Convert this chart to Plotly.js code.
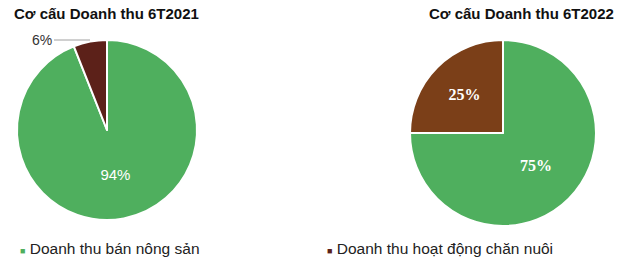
<!DOCTYPE html>
<html>
<head>
<meta charset="utf-8">
<script src="https://cdn.plot.ly/plotly-3.0.1.min.js"></script>
<style>html,body{margin:0;padding:0;background:#fff;}#chart{width:630px;height:269px;}</style>
</head>
<body>
<div id="chart"></div>
<script>
var categories = ["Doanh thu bán nông sản", "Doanh thu hoạt động chăn nuôi"];
var values2021 = [94, 6];
var values2022 = [75, 25];
var titles = ["Cơ cấu Doanh thu 6T2021", "Cơ cấu Doanh thu 6T2022"];
var colors2021 = ["#4FAF5E", "#5C2119"];
var colors2022 = ["#4FAF5E", "#7B3F18"];

var W = 630, H = 269;
function dom(x0, x1, y0, y1) {
  return {x: [x0 / W, x1 / W], y: [1 - y1 / H, 1 - y0 / H]};
}

var pie1 = {
  type: "pie", labels: categories, values: values2021, sort: false,
  direction: "clockwise", rotation: 0,
  marker: {colors: colors2021, line: {color: "#ffffff", width: 2}},
  textinfo: "percent", texttemplate: "%{value}%",
  textposition: ["inside", "none"], insidetextorientation: "horizontal",
  textfont: {family: "Liberation Sans, Arial, sans-serif", size: 15, color: "#ffffff"},
  domain: dom(17, 197, 40, 220), hoverinfo: "label+percent", showlegend: false
};
var pie2 = {
  type: "pie", labels: categories, values: values2022, sort: false,
  direction: "clockwise", rotation: 0,
  marker: {colors: colors2022, line: {color: "#ffffff", width: 2}},
  textinfo: "percent", texttemplate: "%{value}%",
  textposition: "inside", insidetextorientation: "horizontal",
  textfont: {family: "Liberation Serif, Times New Roman, serif", size: 16, color: "#ffffff", weight: "bold"},
  domain: dom(410, 596, 40, 226), hoverinfo: "label+percent", showlegend: false
};

var layout = {
  width: W, height: H,
  margin: {l: 0, r: 0, t: 0, b: 0},
  paper_bgcolor: "#ffffff", plot_bgcolor: "#ffffff",
  showlegend: false,
  annotations: [
    {xref: "paper", yref: "paper", x: 12 / W, y: 1 - 14 / H, xanchor: "left", yanchor: "middle",
     text: "<b>" + titles[0] + "</b>", showarrow: false,
     font: {family: "Liberation Sans, Arial, sans-serif", size: 15, color: "#111111"}},
    {xref: "paper", yref: "paper", x: 616 / W, y: 1 - 14 / H, xanchor: "right", yanchor: "middle",
     text: "<b>" + titles[1] + "</b>", showarrow: false,
     font: {family: "Liberation Sans, Arial, sans-serif", size: 15, color: "#111111"}},
    {xref: "paper", yref: "paper", x: 90 / W, y: 1 - 40 / H,
     text: values2021[1] + "%", showarrow: true, arrowhead: 0, arrowwidth: 1, arrowcolor: "#a0a0a0",
     ax: -36, ay: 0, xanchor: "right",
     font: {family: "Liberation Sans, Arial, sans-serif", size: 14, color: "#333333"}},
    {xref: "paper", yref: "paper", x: 18 / W, y: 1 - 248 / H, xanchor: "left", yanchor: "middle",
     text: "<span style='color:" + colors2021[0] + ";font-size:9px'>■</span> " + categories[0], showarrow: false,
     font: {family: "Liberation Sans, Arial, sans-serif", size: 15.5, color: "#222222"}},
    {xref: "paper", yref: "paper", x: 325 / W, y: 1 - 248 / H, xanchor: "left", yanchor: "middle",
     text: "<span style='color:" + colors2021[1] + ";font-size:9px'>■</span> " + categories[1], showarrow: false,
     font: {family: "Liberation Sans, Arial, sans-serif", size: 15.5, color: "#222222"}}
  ]
};

Plotly.newPlot("chart", [pie1, pie2], layout, {displayModeBar: false, staticPlot: true});
</script>
</body>
</html>
